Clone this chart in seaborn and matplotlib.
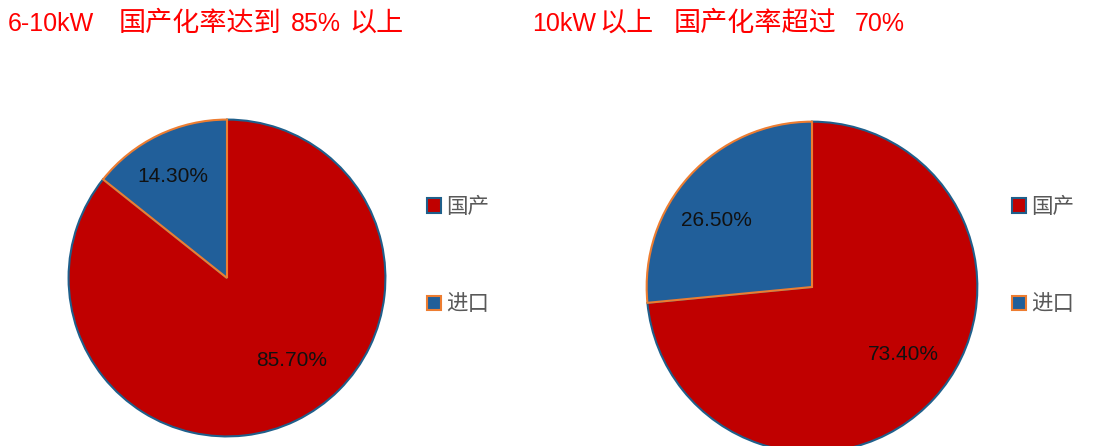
import matplotlib
matplotlib.use("Agg")
import matplotlib.pyplot as plt
import seaborn as sns

sns.set_theme(style="white")
plt.rcParams['font.family'] = ['Liberation Sans', 'Noto Sans CJK SC', 'DejaVu Sans']

# Data
categories = ["国产", "进口"]
left_values = [85.70, 14.30]
right_values = [73.40, 26.50]
left_title_parts = ["6-10kW", "国产化率达到", "85%", "以上"]
right_title_parts = ["10kW", "以上", "国产化率超过", "70%"]

colors = ["#C00000", "#215F9A"]
edges = ["#1F5F8B", "#ED7D31"]

W, H = 1102, 446
fig = plt.figure(figsize=(W / 100, H / 100), dpi=100)
fig.patch.set_facecolor("white")


def px_axes(cx, cy, r):
    return fig.add_axes([(cx - r) / W, (H - cy - r) / H, 2 * r / W, 2 * r / H])


def draw_pie(ax, values, label_pos):
    wedges, _ = ax.pie(values, colors=colors, startangle=90, counterclock=False,
                       radius=1.0, wedgeprops=dict(linewidth=1.5))
    for w, ec in zip(wedges, edges):
        w.set_edgecolor(ec)
    wedges[1].set_zorder(3)
    ax.set_xlim(-1.01, 1.01)
    ax.set_ylim(-1.01, 1.01)
    ax.set_aspect("equal")
    ax.axis("off")
    for v, (x, y) in zip(values, label_pos):
        ax.text(x, y, f"{v:.2f}%", ha="center", va="center", fontsize=15,
                color="#111111", zorder=5)
    return wedges


ax1 = px_axes(227, 278, 160)
w1 = draw_pie(ax1, left_values, [(0.41, -0.52), (-0.34, 0.64)])

ax2 = px_axes(812, 287, 167)
w2 = draw_pie(ax2, right_values, [(0.55, -0.41), (-0.575, 0.40)])


def is_cjk(s):
    return any(ord(c) > 0x2E80 for c in s)


def title(parts, xs):
    for p, x in zip(parts, xs):
        fig.text(x / W, 1 - 24 / H, p, color="#FF0000",
                 fontsize=19.5 if is_cjk(p) else 18, ha="left", va="center")


title(left_title_parts, [8, 119, 291, 349])
title(right_title_parts, [532, 599, 674, 855])

for wedges, x in [(w1, 427), (w2, 1012)]:
    fig.legend(wedges, categories, loc="upper left",
               bbox_to_anchor=(x / W, 1 - 197 / H), frameon=False,
               fontsize=15.5, labelcolor="#595959", handlelength=0.65,
               handleheight=0.65, handletextpad=0.25, labelspacing=3.55,
               borderpad=0, borderaxespad=0)

fig.savefig("out.png", dpi=100, facecolor="white")
